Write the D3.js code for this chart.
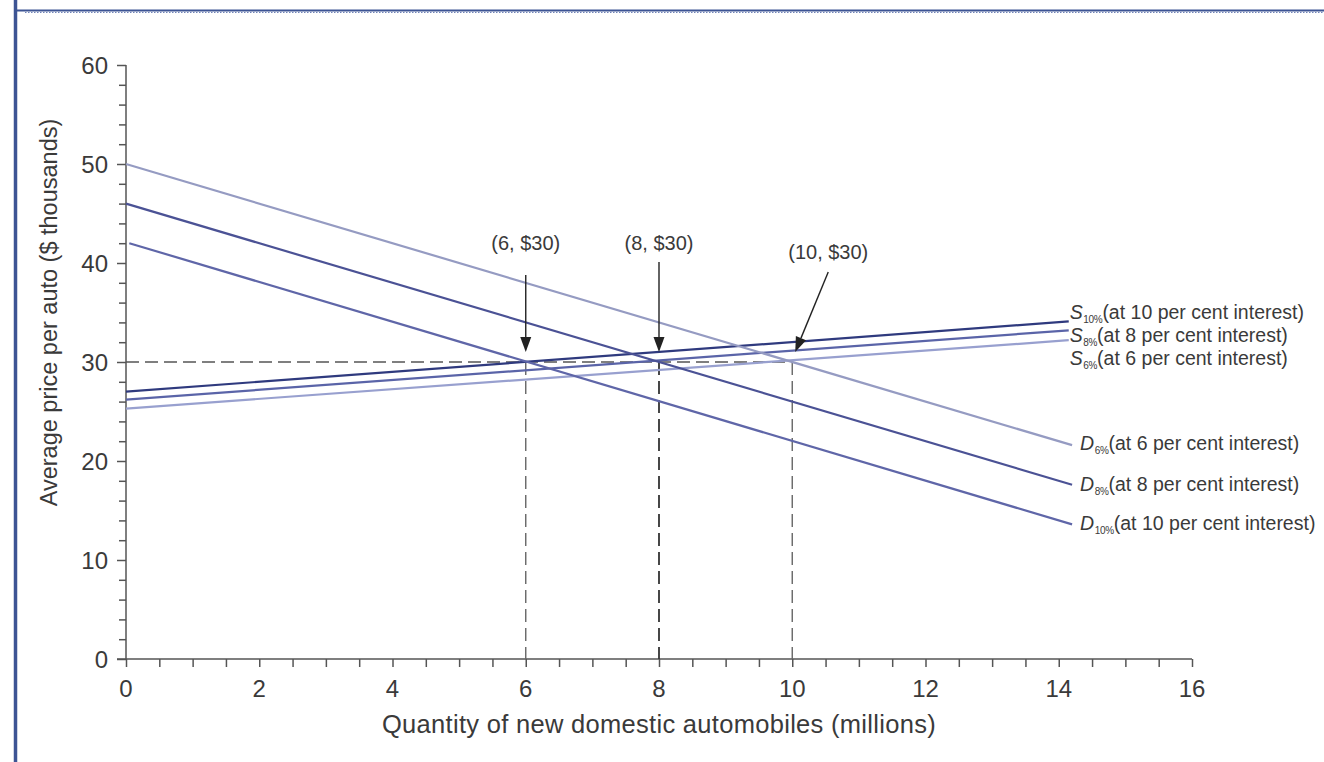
<!DOCTYPE html>
<html>
<head>
<meta charset="utf-8">
<script src="https://cdn.jsdelivr.net/npm/d3@7"></script>
<style>
  html, body { margin: 0; padding: 0; background: #ffffff; }
  svg { display: block; }
  text { font-family: "Liberation Sans", Arial, Helvetica, sans-serif; fill: #333; }
</style>
</head>
<body>
<svg id="chart" width="1324" height="762"></svg>
<script>
// ---------------- data ----------------
const xMajorTicks = [0, 2, 4, 6, 8, 10, 12, 14, 16];
const yMajorTicks = [0, 10, 20, 30, 40, 50, 60];
const xTitle = "Quantity of new domestic automobiles (millions)";
const yTitle = "Average price per auto ($ thousands)";

// curves: supply S10, S8, S6, demand D6, D8, D10
const curveLetters = ["S", "S", "S", "D", "D", "D"];
const curveSubs = ["10%", "8%", "6%", "6%", "8%", "10%"];
const curveTexts = ["(at 10 per cent interest)", "(at 8 per cent interest)", "(at 6 per cent interest)",
                    "(at 6 per cent interest)", "(at 8 per cent interest)", "(at 10 per cent interest)"];
const curveStartQ = [0, 0, 0, 0, 0, 0.05];
const curveStartP = [27.0, 26.2, 25.3, 50, 46, 42];
const curveEndQ = [14.15, 14.15, 14.15, 14.2, 14.2, 14.2];
const curveEndP = [34.1, 33.2, 32.2, 21.6, 17.6, 13.6];
const curveColors = ["#2f3a7e", "#5a64a8", "#98a0cf", "#959bc2", "#4b5295", "#5f66a8"];

// equilibrium annotations
const eqLabels = ["(6, $30)", "(8, $30)", "(10, $30)"];
const eqQ = [6, 8, 10];
const eqP = [30, 30, 30];

// ---------------- layout ----------------
const svg = d3.select("#chart");
const W = 1324, H = 762;
const x = d3.scaleLinear().domain([0, 16]).range([126, 1192]);
const y = d3.scaleLinear().domain([0, 60]).range([659, 65]);

// frame
svg.append("rect").attr("x", 0).attr("y", 0).attr("width", W).attr("height", H).attr("fill", "#fff");
svg.append("line").attr("x1", 15.5).attr("x2", 15.5).attr("y1", 0).attr("y2", H)
  .attr("stroke", "#3d5494").attr("stroke-width", 3.5);
svg.append("line").attr("x1", 17).attr("x2", W).attr("y1", 10.5).attr("y2", 10.5)
  .attr("stroke", "#3d5494").attr("stroke-width", 2);
svg.append("line").attr("x1", 25).attr("x2", W).attr("y1", 12.5).attr("y2", 12.5)
  .attr("stroke", "#6f82b8").attr("stroke-width", 1.2).attr("stroke-dasharray", "1.5,1.5");

const axisColor = "#555";

// y axis
const yMinor = d3.range(0, 61, 2);
const gy = svg.append("g").attr("transform", `translate(${x(0)},0)`);
gy.call(d3.axisLeft(y).tickValues(yMinor).tickSize(7).tickFormat(""));
gy.call(g => g.selectAll(".tick line").filter(d => d % 10 === 0).attr("x2", -9));
gy.selectAll("path, line").attr("stroke", axisColor).attr("stroke-width", 1.5);
gy.select(".domain").attr("d", `M0,${y(60)}V${y(0)}`);
gy.selectAll(".ylab").data(yMajorTicks).enter().append("text")
  .attr("class", "ylab")
  .attr("x", -18).attr("y", d => y(d)).attr("dy", "0.36em")
  .attr("text-anchor", "end").style("font-size", "24px").style("fill", "#3a3a3a")
  .text(d => d);

// x axis
const xMinor = d3.range(0, 16.01, 0.5);
const gx = svg.append("g").attr("transform", `translate(0,${y(0)})`);
gx.call(d3.axisBottom(x).tickValues(xMinor).tickSize(8).tickFormat(""));
gx.selectAll("path, line").attr("stroke", axisColor).attr("stroke-width", 1.5);
gx.select(".domain").attr("d", `M${x(0) - 9},0H${x(16)}`);
gx.selectAll(".xlab").data(xMajorTicks).enter().append("text")
  .attr("class", "xlab")
  .attr("x", d => x(d)).attr("y", 38)
  .attr("text-anchor", "middle").style("font-size", "24px").style("fill", "#3a3a3a")
  .text(d => d);

// axis titles
svg.append("text").attr("x", 659).attr("y", 733)
  .attr("text-anchor", "middle").style("font-size", "25.5px").style("letter-spacing", "0.3px")
  .style("fill", "#3a3a3a")
  .text(xTitle);
svg.append("text").attr("transform", `translate(57,${y(35)}) rotate(-90)`)
  .attr("text-anchor", "middle").style("font-size", "23.5px").style("fill", "#3a3a3a")
  .text(yTitle);

// dashed guide lines
const dashColor = "#555";
svg.append("line").attr("x1", x(0)).attr("x2", x(eqQ[2])).attr("y1", y(30)).attr("y2", y(30))
  .attr("stroke", dashColor).attr("stroke-width", 1.4).attr("stroke-dasharray", "13,6");
svg.selectAll(".vdash").data(eqQ).enter().append("line").attr("class", "vdash")
  .attr("x1", d => x(d)).attr("x2", d => x(d))
  .attr("y1", (d, i) => y(eqP[i])).attr("y2", y(0))
  .attr("stroke", (d, i) => i === 1 ? "#333" : "#666")
  .attr("stroke-width", (d, i) => i === 1 ? 1.8 : 1.4)
  .attr("stroke-dasharray", "13,6");

// curves
const line = d3.line().x(d => x(d[0])).y(d => y(d[1]));
curveLetters.forEach((c, i) => {
  svg.append("path")
    .datum([[curveStartQ[i], curveStartP[i]], [curveEndQ[i], curveEndP[i]]])
    .attr("d", line).attr("fill", "none")
    .attr("stroke", curveColors[i]).attr("stroke-width", 2.2);
});

// curve labels
const labelDy = [-2, 12, 25, 5, 6, 6];
const labelDx = [1, 1, 1, 8, 8, 8];
curveLetters.forEach((c, i) => {
  const t = svg.append("text")
    .attr("x", x(curveEndQ[i]) + labelDx[i])
    .attr("y", y(curveEndP[i]) + labelDy[i])
    .style("font-size", "19.5px").style("fill", "#3a3a3a");
  t.append("tspan").style("font-style", "italic").text(c);
  t.append("tspan").attr("dy", 4).attr("dx", 0.5).style("font-size", "10px").style("letter-spacing", "-0.3px").text(curveSubs[i]);
  t.append("tspan").attr("dy", -4).text(curveTexts[i]);
});

// annotation arrows + labels
const arrowStart = [[0, -87], [0, -100], [36, -90]]; // pixel offsets from point
const labelPos = [[0, -112], [0, -112], [36, -103]];
eqQ.forEach((q, i) => {
  const px = x(q), py = y(eqP[i]);
  const tipX = px + (i === 2 ? 3 : 0), tipY = py - 10;
  const sx = px + arrowStart[i][0], sy = py + arrowStart[i][1];
  const ang = Math.atan2(tipY - sy, tipX - sx);
  const L = 15, Wd = 5.5;
  const bx = tipX - L * Math.cos(ang), by = tipY - L * Math.sin(ang);
  svg.append("line").attr("x1", sx).attr("y1", sy).attr("x2", bx).attr("y2", by)
    .attr("stroke", "#222").attr("stroke-width", 1.4);
  const p1 = [bx + Wd * Math.sin(ang), by - Wd * Math.cos(ang)];
  const p2 = [bx - Wd * Math.sin(ang), by + Wd * Math.cos(ang)];
  svg.append("path").attr("d", `M${tipX},${tipY}L${p1[0]},${p1[1]}L${p2[0]},${p2[1]}Z`)
    .attr("fill", "#222");
  svg.append("text").attr("x", px + labelPos[i][0]).attr("y", py + labelPos[i][1])
    .attr("text-anchor", "middle").style("font-size", "20px").style("fill", "#3a3a3a")
    .text(eqLabels[i]);
});
</script>
</body>
</html>
